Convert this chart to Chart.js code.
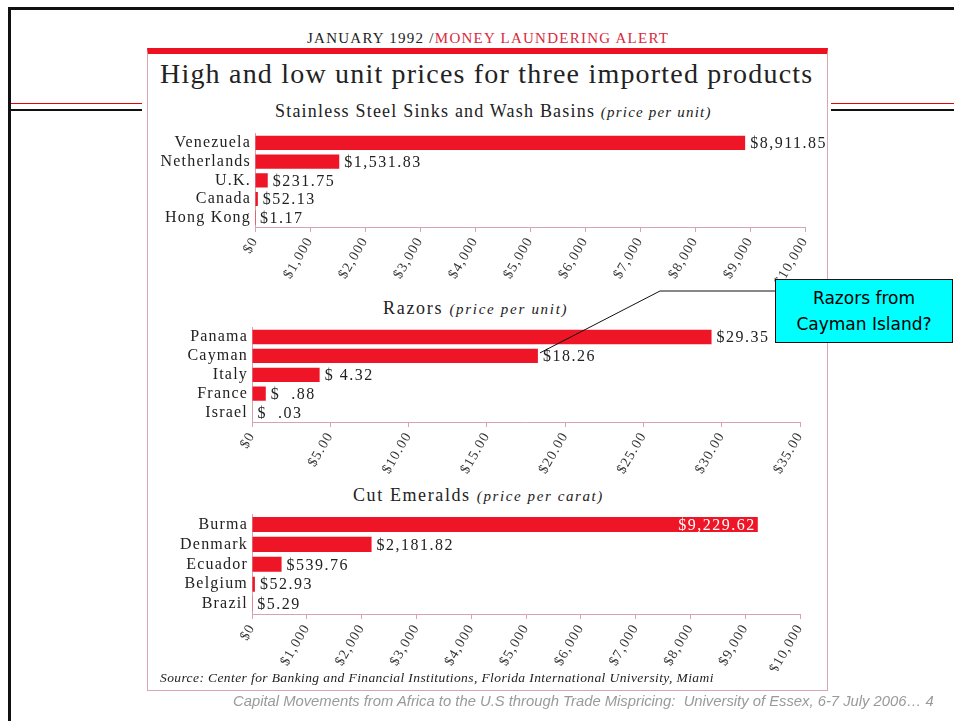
<!DOCTYPE html>
<html lang="en">

<head>
    <meta charset="UTF-8">
    <title>High and low unit prices for three imported products</title>
    <script src="https://cdn.jsdelivr.net/npm/chart.js@4.4.0/dist/chart.umd.min.js"></script>
    <style>
        body { margin: 0; width: 954px; height: 721px; position: relative; overflow: hidden; background: #fff; font-family: "Liberation Serif", serif; color: #222; }
        .frame { position: absolute; left: 8px; top: 7px; width: 960px; height: 740px; border-left: 3px solid #111; border-top: 3px solid #111; }
        .rule { position: absolute; height: 0; }
        .box { position: absolute; left: 147px; top: 48px; width: 681px; height: 643px; border: 1px solid #d9a6b4; border-top: 6px solid #ee1122; box-sizing: border-box; }
        .txt { position: absolute; white-space: nowrap; }
        .sub { font-size: 18px; letter-spacing: 1.2px; }
        .sub i { font-size: 15px; }
        .chart { position: absolute; left: 150px; width: 680px; }
        .callout { position: absolute; left: 775px; top: 279px; width: 178px; height: 64px; background: #00ffff; border: 1px solid #111; box-sizing: border-box;
                   font-family: "DejaVu Sans", Verdana, sans-serif; font-size: 17px; line-height: 26px; text-align: center; padding-top: 5px; color: #000; }
    </style>
</head>

<body>
    <div class="frame"></div>
    <div class="rule" style="left:11px;top:103px;width:131px;border-top:1px solid #e00;"></div>
    <div class="rule" style="left:11px;top:109px;width:131px;border-top:2px solid #111;"></div>
    <div class="rule" style="left:831px;top:103px;width:130px;border-top:1px solid #e00;"></div>
    <div class="rule" style="left:831px;top:109px;width:130px;border-top:2px solid #111;"></div>

    <div class="box"></div>

    <div class="txt" style="left:307px;top:30px;font-size:15px;letter-spacing:1.25px;">JANUARY 1992 /<span style="color:#d8283c;">MONEY LAUNDERING ALERT</span></div>
    <div class="txt" style="left:160px;top:58px;font-size:28px;letter-spacing:1.2px;">High and low unit prices for three imported products</div>

    <div class="txt sub" style="left:275px;top:101px;">Stainless Steel Sinks and Wash Basins <i>(price per unit)</i></div>
    <div class="txt sub" style="left:383px;top:298px;letter-spacing:1.7px;">Razors <i>(price per unit)</i></div>
    <div class="txt sub" style="left:353px;top:485px;letter-spacing:1.6px;">Cut Emeralds <i>(price per carat)</i></div>

    <div class="chart" style="top:120px;height:175px;"><canvas id="sinksChart"></canvas></div>
    <div class="chart" style="top:314px;height:175px;"><canvas id="razorsChart"></canvas></div>
    <div class="chart" style="top:501px;height:170px;"><canvas id="emeraldsChart"></canvas></div>

    <svg id="calloutLine" width="954" height="721" style="position:absolute;left:0;top:0;"></svg>
    <div class="callout">Razors from<br>Cayman Island?</div>

    <div class="txt" style="left:160px;top:670px;font-size:13.5px;letter-spacing:0.4px;font-style:italic;">Source: Center for Banking and Financial Institutions, Florida International University, Miami</div>
    <div class="txt" style="left:233px;top:693px;font-size:14.8px;font-style:italic;color:#9a9a9a;font-family:'Liberation Sans Narrow','Arial Narrow',sans-serif;">Capital Movements from Africa to the U.S through Trade Mispricing:&nbsp; University of Essex, 6-7 July 2006… 4</div>

    <script>
        // Stainless steel sinks and wash basins (price per unit)
        const sinkCountries = ['Venezuela', 'Netherlands', 'U.K.', 'Canada', 'Hong Kong'];
        const sinkPrices = [8911.85, 1531.83, 231.75, 52.13, 1.17];
        const sinkLabels = ['$8,911.85', '$1,531.83', '$231.75', '$52.13', '$1.17'];

        // Razors (price per unit)
        const razorCountries = ['Panama', 'Cayman', 'Italy', 'France', 'Israel'];
        const razorPrices = [29.35, 18.26, 4.32, 0.88, 0.03];
        const razorLabels = ['$29.35', '$18.26', '$ 4.32', '$  .88', '$  .03'];

        // Cut emeralds (price per carat)
        const emeraldCountries = ['Burma', 'Denmark', 'Ecuador', 'Belgium', 'Brazil'];
        const emeraldPrices = [9229.62, 2181.82, 539.76, 52.93, 5.29];
        const emeraldLabels = ['$9,229.62', '$2,181.82', '$539.76', '$52.93', '$5.29'];

        // axis ticks
        const thousandTicks = [0, 1000, 2000, 3000, 4000, 5000, 6000, 7000, 8000, 9000, 10000];
        const razorTicks = [0, 5, 10, 15, 20, 25, 30, 35];

        const barRed = '#ee1526';
        const axisColor = '#d4a4b0';
        const serif = '"Liberation Serif", serif';

        // the scanned type is wide, so open up the canvas text a little
        const wideText = {
            id: 'wideText',
            beforeDraw(chart) { chart.ctx.letterSpacing = '1.2px'; },
            afterDraw(chart) { chart.ctx.letterSpacing = '0px'; }
        };

        // writes the price next to each bar (or inside it when asked)
        const valueLabels = {
            id: 'valueLabels',
            afterDatasetsDraw(chart, args, opts) {
                const ctx = chart.ctx;
                const meta = chart.getDatasetMeta(0);
                ctx.save();
                ctx.font = '16px ' + serif;
                ctx.letterSpacing = '1.5px';
                ctx.textBaseline = 'middle';
                meta.data.forEach((bar, i) => {
                    if (opts.inside && opts.inside.includes(i)) {
                        ctx.fillStyle = '#fff';
                        ctx.textAlign = 'right';
                        ctx.fillText(opts.labels[i], bar.x - 2, bar.y + 1);
                    } else {
                        ctx.fillStyle = '#222';
                        ctx.textAlign = 'left';
                        ctx.fillText(opts.labels[i], bar.x + 5, bar.y + 1);
                    }
                });
                ctx.restore();
            }
        };

        function makeChart(id, countries, prices, labels, ticks, fmt, area, inside) {
            const ctx = document.getElementById(id).getContext('2d');
            const holder = document.getElementById(id).parentNode;
            const top = holder.offsetTop;
            const h = holder.offsetHeight;
            return new Chart(ctx, {
                type: 'bar',
                data: {
                    labels: countries,
                    datasets: [{
                        data: prices,
                        backgroundColor: barRed,
                        borderWidth: 0,
                        categoryPercentage: 1,
                        barPercentage: 0.76
                    }]
                },
                options: {
                    indexAxis: 'y',
                    responsive: true,
                    maintainAspectRatio: false,
                    animation: false,
                    events: [],
                    layout: { padding: { top: area.top - top, right: 830 - area.right, left: 0, bottom: 0 } },
                    plugins: {
                        legend: { display: false },
                        tooltip: { enabled: false },
                        valueLabels: { labels: labels, inside: inside || [] }
                    },
                    scales: {
                        x: {
                            min: ticks[0],
                            max: ticks[ticks.length - 1],
                            afterBuildTicks: s => { s.ticks = ticks.map(v => ({ value: v })); },
                            afterFit: s => { s.height = top + h - area.bottom; },
                            grid: { drawOnChartArea: false, drawTicks: true, tickLength: 5, color: axisColor },
                            border: { color: axisColor, width: 1 },
                            ticks: {
                                autoSkip: false,
                                minRotation: 60,
                                maxRotation: 60,
                                padding: 2,
                                color: '#333',
                                font: { family: serif, size: 14 },
                                callback: v => fmt(v)
                            }
                        },
                        y: {
                            afterFit: s => { s.width = area.left - 150; },
                            grid: { display: false, drawTicks: false },
                            border: { color: axisColor, width: 1 },
                            ticks: {
                                autoSkip: false,
                                padding: 4,
                                color: '#222',
                                font: { family: serif, size: 16 }
                            }
                        }
                    }
                },
                plugins: [wideText, valueLabels]
            });
        }

        const dollars = v => v === 0 ? '$0' : '$' + v.toLocaleString('en-US');
        const cents = v => v === 0 ? '$0' : '$' + v.toFixed(2);

        makeChart('sinksChart', sinkCountries, sinkPrices, sinkLabels, thousandTicks, dollars,
            { left: 255, right: 805, top: 127, bottom: 227 });
        const razorChart = makeChart('razorsChart', razorCountries, razorPrices, razorLabels, razorTicks, cents,
            { left: 252, right: 800, top: 321, bottom: 422 });
        makeChart('emeraldsChart', emeraldCountries, emeraldPrices, emeraldLabels, thousandTicks, dollars,
            { left: 252, right: 800, top: 508, bottom: 614 }, [0]);

        // callout leader pointing at the Cayman bar
        const cayman = razorChart.getDatasetMeta(0).data[1];
        const tipX = 150 + cayman.x + 2;
        const tipY = 314 + cayman.y - 3;
        document.getElementById('calloutLine').innerHTML =
            '<polyline points="775,291 660,291 ' + tipX + ',' + tipY + '" fill="none" stroke="#111" stroke-width="1"/>';
    </script>
</body>

</html>
